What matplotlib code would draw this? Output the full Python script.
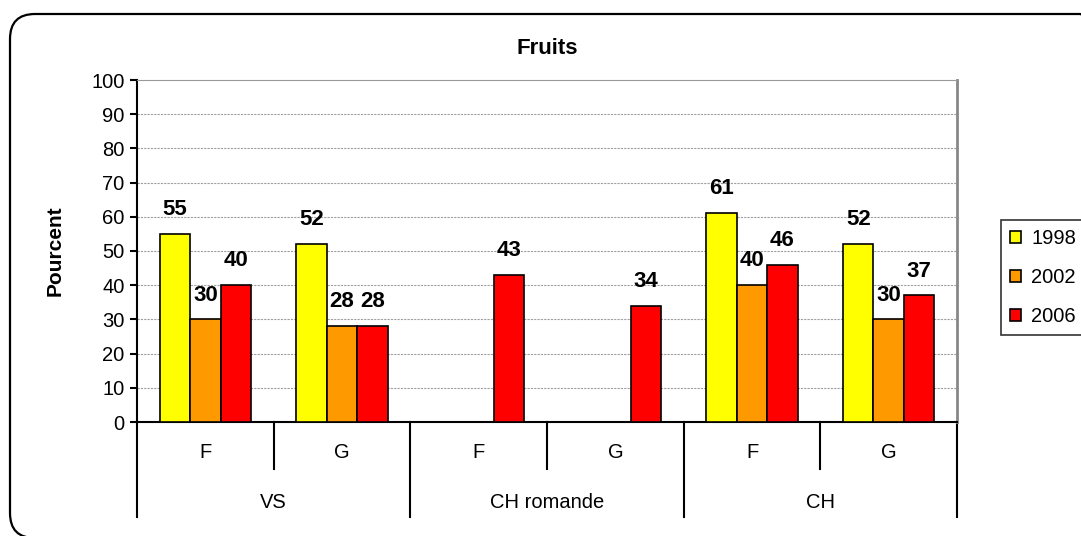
import matplotlib
matplotlib.use("Agg")
import matplotlib.pyplot as plt
import numpy as np
from matplotlib.patches import FancyBboxPatch, Patch
from matplotlib.transforms import blended_transform_factory

plt.rcParams['font.family'] = ['Liberation Sans', 'DejaVu Sans']

# data
sub_labels = ['F', 'G', 'F', 'G', 'F', 'G']
group_labels = ['VS', 'CH romande', 'CH']
years = ['1998', '2002', '2006']
v1998 = [55, 52, np.nan, np.nan, 61, 52]
v2002 = [30, 28, np.nan, np.nan, 40, 30]
v2006 = [40, 28, 43, 34, 46, 37]
colors = ['#FFFF00', '#FF9900', '#FF0000']

fig = plt.figure(figsize=(10.81, 5.36), dpi=100)
ax = fig.add_axes([137 / 1081, 1 - 422 / 536, 820 / 1081, 342 / 536])

x = np.arange(len(sub_labels)) + 0.5
w = 0.222
for i, (vals, c, yr) in enumerate(zip([v1998, v2002, v2006], colors, years)):
    bars = ax.bar(x + (i - 1) * w, vals, w, color=c, edgecolor='black', linewidth=1.2, zorder=3)
    labs = ['' if np.isnan(v) else f'{v:.0f}' for v in vals]
    ax.bar_label(bars, labels=labs, padding=10, fontsize=16, fontweight='bold')

ax.set_xlim(0, 6)
ax.set_ylim(0, 100)
ax.set_yticks(np.arange(0, 101, 10))
ax.tick_params(axis='y', labelsize=14.5, length=5, width=1.5, direction='out', pad=4)
ax.set_xticks([])
for yv in range(10, 100, 10):
    ax.axhline(yv, color='#a0a0a0', lw=0.8, ls=(0, (2, 1)), zorder=1)

ax.spines['top'].set_color('#999999')
ax.spines['right'].set_color('#888888')
ax.spines['right'].set_linewidth(2)
ax.spines['left'].set_linewidth(1.5)
ax.spines['bottom'].set_linewidth(1.5)

# two-level category axis
tr = blended_transform_factory(ax.transData, ax.transAxes)
for xs in [1, 3, 5]:
    ax.plot([xs, xs], [0, -0.137], color='black', lw=1.5, transform=tr, clip_on=False)
for xs in [0, 2, 4, 6]:
    ax.plot([xs, xs], [0, -0.278], color='black', lw=1.5, transform=tr, clip_on=False)
for xi, lab in zip(x, sub_labels):
    ax.text(xi, -0.0906, lab, transform=tr, ha='center', va='center', fontsize=14.5)
for gi, lab in enumerate(group_labels):
    ax.text(2 * gi + 1, -0.234, lab, transform=tr, ha='center', va='center', fontsize=14.5)

ax.set_title('Fruits', fontsize=16, fontweight='bold', pad=19)
ax.set_ylabel('Pourcent', fontsize=15, fontweight='bold')
ax.yaxis.set_label_coords(-0.0878, 0.5)

handles = [Patch(facecolor=c, edgecolor='black', linewidth=1.2) for c in colors]
fig.legend(handles, years, loc='upper left', bbox_to_anchor=(1001 / 1081, 1 - 220 / 536),
           fontsize=14.5, frameon=True, fancybox=False, edgecolor='black',
           handlelength=0.55, handleheight=0.55, handletextpad=0.5,
           labelspacing=1.0, borderpad=0.45, borderaxespad=0)
fig.legends[0].get_frame().set_linewidth(1.2)

border = FancyBboxPatch((0.10, -0.02), 10.95, 5.24, boxstyle='round,pad=0,rounding_size=0.25',
                        transform=fig.dpi_scale_trans, facecolor='none', edgecolor='black',
                        linewidth=1.6, clip_on=False)
fig.patches.append(border)

fig.savefig('out.png', dpi=100)
